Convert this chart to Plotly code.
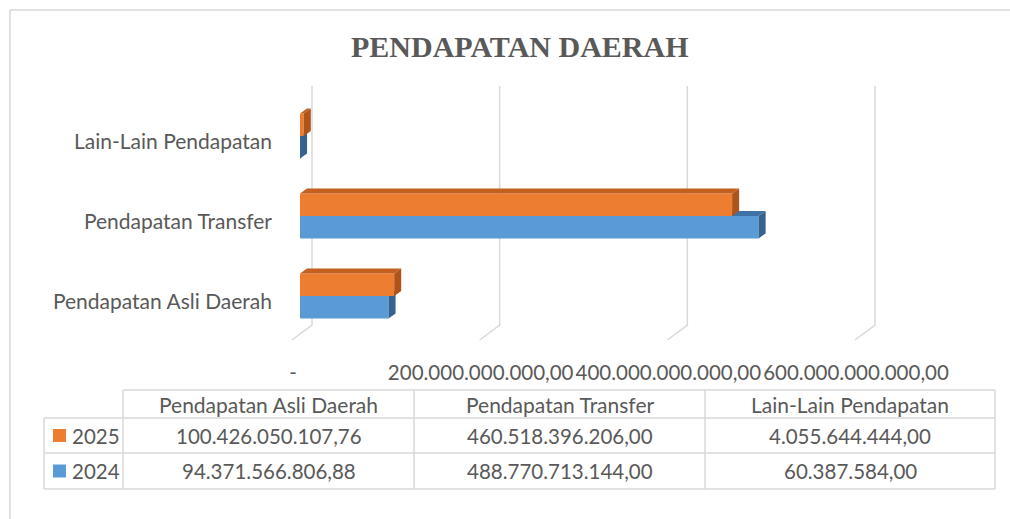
import plotly.graph_objects as go

# ---------------- data ----------------
categories = ["Pendapatan Asli Daerah", "Pendapatan Transfer", "Lain-Lain Pendapatan"]
series_names = ["2025", "2024"]
values_2025 = [100426050107.76, 460518396206.00, 4055644444.00]
values_2024 = [94371566806.88, 488770713144.00, 60387584.00]
tick_values = [0, 200e9, 400e9, 600e9]
title_text = "PENDAPATAN DAERAH"

# ---------------- styling / layout constants ----------------
W, H = 1010, 519
ORANGE, ORANGE_TOP, ORANGE_SIDE = "#ED7D31", "#C4601F", "#AE531A"
BLUE, BLUE_TOP, BLUE_SIDE = "#5B9BD5", "#3F72A6", "#36628F"
GRID = "#D9D9D9"
TEXT = "#595959"
FONT = "Lato"


def px(x):
    return x / W


def py(y):
    return 1 - y / H


def fmt_id(v):
    if v == 0:
        return "-"
    s = f"{v:,.2f}"
    return s.replace(",", "X").replace(".", ",").replace("X", ".")


ZERO_PX, FULL_PX = 300, 863          # pixel of value 0 and of 600 bn
DOM_L, DOM_R = 285, 900              # plot area (wider, so 3D gridlines are not clipped)
Y_TOP_PX, Y_BOT_PX = 96, 336
sx = (FULL_PX - ZERO_PX) / 600e9
x_range = [(DOM_L - ZERO_PX) / sx, (DOM_R - ZERO_PX) / sx]
y_range = [-0.5, 2.5]
sy = (Y_BOT_PX - Y_TOP_PX) / (y_range[1] - y_range[0])
DEPTH_X, DEPTH_Y = 7, 5
dxu = DEPTH_X / sx
dyu = DEPTH_Y / sy
BAR_W = 0.28
ypos = list(range(len(categories)))


def faces(values, offset):
    tx, ty, sxs, sys_ = [], [], [], []
    for c, v in zip(ypos, values):
        yb = c + offset
        yt = yb + BAR_W
        tx += [0, v, v + dxu, dxu, 0, None]
        ty += [yt, yt, yt + dyu, yt + dyu, yt, None]
        sxs += [v, v, v + dxu, v + dxu, v, None]
        sys_ += [yb, yt, yt + dyu, yb + dyu, yb, None]
    return (tx, ty), (sxs, sys_)


fig = go.Figure()

# 2024 (lower bar) on main subplot
(btx, bty), (bsx, bsy) = faces(values_2024, -BAR_W)
fig.add_trace(go.Bar(y=ypos, x=values_2024, orientation="h", width=BAR_W, offset=-BAR_W,
                     marker=dict(color=BLUE, line=dict(width=0)), name="2024",
                     xaxis="x", yaxis="y", hoverinfo="skip"))
fig.add_trace(go.Scatter(x=btx, y=bty, fill="toself", fillcolor=BLUE_TOP, mode="lines",
                         line=dict(width=0, color=BLUE_TOP), xaxis="x", yaxis="y", hoverinfo="skip"))
fig.add_trace(go.Scatter(x=bsx, y=bsy, fill="toself", fillcolor=BLUE_SIDE, mode="lines",
                         line=dict(width=0, color=BLUE_SIDE), xaxis="x", yaxis="y", hoverinfo="skip"))

# 2025 (upper bar) on overlay subplot (drawn above)
(otx, oty), (osx, osy) = faces(values_2025, 0)
fig.add_trace(go.Bar(y=ypos, x=values_2025, orientation="h", width=BAR_W, offset=0,
                     marker=dict(color=ORANGE, line=dict(width=0)), name="2025",
                     xaxis="x2", yaxis="y", hoverinfo="skip"))
fig.add_trace(go.Scatter(x=otx, y=oty, fill="toself", fillcolor=ORANGE_TOP, mode="lines",
                         line=dict(width=0, color=ORANGE_TOP), xaxis="x2", yaxis="y", hoverinfo="skip"))
fig.add_trace(go.Scatter(x=osx, y=osy, fill="toself", fillcolor=ORANGE_SIDE, mode="lines",
                         line=dict(width=0, color=ORANGE_SIDE), xaxis="x2", yaxis="y", hoverinfo="skip"))

shapes = []
# chart border
shapes.append(dict(type="line", xref="paper", yref="paper", x0=px(10), x1=px(10), y0=py(519), y1=py(10),
                   line=dict(color=GRID, width=1.5)))
shapes.append(dict(type="line", xref="paper", yref="paper", x0=px(10), x1=px(1010), y0=py(10), y1=py(10),
                   line=dict(color=GRID, width=1.5)))
# 3D gridlines (back wall + floor)
for v in tick_values:
    shapes.append(dict(type="path", xref="x", yref="paper", xsizemode="pixel", ysizemode="pixel",
                       xanchor=v, yanchor=py(325), path="M 12,239 L 12,0 L -8,-15",
                       line=dict(color=GRID, width=1.5), layer="below"))

# ---------------- data table ----------------
col_x = [44, 123, 414, 705, 995]
row_y = [390, 418, 453, 489]
tl = dict(color=GRID, width=1.5)
shapes.append(dict(type="line", xref="paper", yref="paper", x0=px(col_x[1]), x1=px(col_x[-1]),
                   y0=py(row_y[0]), y1=py(row_y[0]), line=tl))
for yy in row_y[1:]:
    shapes.append(dict(type="line", xref="paper", yref="paper", x0=px(col_x[0]), x1=px(col_x[-1]),
                       y0=py(yy), y1=py(yy), line=tl))
shapes.append(dict(type="line", xref="paper", yref="paper", x0=px(col_x[0]), x1=px(col_x[0]),
                   y0=py(row_y[1]), y1=py(row_y[-1]), line=tl))
for xx in col_x[1:]:
    shapes.append(dict(type="line", xref="paper", yref="paper", x0=px(xx), x1=px(xx),
                       y0=py(row_y[0]), y1=py(row_y[-1]), line=tl))

annotations = []
annotations.append(dict(text=f"<b>{title_text}</b>", x=px(520), y=py(46), xref="paper", yref="paper",
                        showarrow=False, xanchor="center", yanchor="middle",
                        font=dict(family="Liberation Serif", size=30, color=TEXT)))
word_font = dict(family=FONT, size=21, color=TEXT)
num_font = dict(family=FONT, size=20.5, color=TEXT)
for i, cat in enumerate(categories):
    cx = (col_x[i + 1] + col_x[i + 2]) / 2
    annotations.append(dict(text=cat, x=px(cx), y=py((row_y[0] + row_y[1]) / 2), xref="paper", yref="paper",
                            showarrow=False, xanchor="center", yanchor="middle", font=word_font))
rows = [(series_names[0], values_2025, ORANGE), (series_names[1], values_2024, BLUE)]
for r, (nm, vals, col) in enumerate(rows):
    cy = (row_y[r + 1] + row_y[r + 2]) / 2
    annotations.append(dict(text=nm, x=px(70), y=py(cy), xref="paper", yref="paper",
                            showarrow=False, xanchor="left", yanchor="middle", font=num_font))
    shapes.append(dict(type="rect", xref="paper", yref="paper", x0=px(53), x1=px(66),
                       y0=py(cy - 6.5), y1=py(cy + 6.5), fillcolor=col, line=dict(width=0)))
    for i, v in enumerate(vals):
        cx = (col_x[i + 1] + col_x[i + 2]) / 2
        annotations.append(dict(text=fmt_id(v), x=px(cx), y=py(cy), xref="paper", yref="paper",
                                showarrow=False, xanchor="center", yanchor="middle", font=num_font))

fig.update_layout(
    template="none",
    width=W, height=H,
    autosize=False,
    margin=dict(l=0, r=0, t=0, b=0, pad=0),
    paper_bgcolor="white", plot_bgcolor="rgba(0,0,0,0)",
    showlegend=False,
    barmode="overlay",
    hovermode=False,
    xaxis=dict(domain=[px(DOM_L), px(DOM_R)], range=x_range, showgrid=False, zeroline=False,
               showline=False, ticks="", tickvals=tick_values, ticktext=[fmt_id(v) for v in tick_values],
               tickangle=0, automargin=False,
               ticklabelshift=-7, ticklabelstandoff=22, tickfont=num_font, anchor="y"),
    xaxis2=dict(overlaying="x", range=x_range, visible=False, anchor="y", automargin=False),
    yaxis=dict(domain=[py(Y_BOT_PX), py(Y_TOP_PX)], range=y_range, showgrid=False, zeroline=False,
               showline=False, ticks="", tickvals=ypos, ticktext=categories, automargin=False,
               ticklabelshift=6, ticklabelstandoff=12, tickfont=word_font, anchor="x"),
    shapes=shapes,
    annotations=annotations,
)

fig.write_html("out.html", config={"displayModeBar": False},
               post_script="document.body.style.margin='0';")
